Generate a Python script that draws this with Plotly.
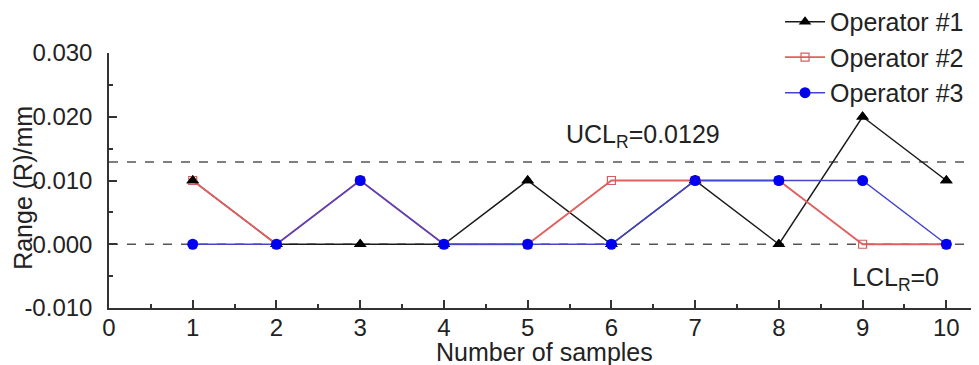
import plotly.graph_objects as go

samples = [1, 2, 3, 4, 5, 6, 7, 8, 9, 10]
op1 = [0.010, 0.000, 0.000, 0.000, 0.010, 0.000, 0.010, 0.000, 0.020, 0.010]
op2 = [0.010, 0.000, 0.010, 0.000, 0.000, 0.010, 0.010, 0.010, 0.000, 0.000]
op3 = [0.000, 0.000, 0.010, 0.000, 0.000, 0.000, 0.010, 0.010, 0.010, 0.000]
ucl = 0.0129
lcl = 0.0
y_ticks = [-0.010, 0.000, 0.010, 0.020, 0.030]
y_ticktext = ["-0.010", "0.000", "0.010", "0.020", "0.030"]
x_ticks = [0, 1, 2, 3, 4, 5, 6, 7, 8, 9, 10]

FONT = "Arial, Liberation Sans, sans-serif"
AX = "#333333"
TXT = "#222222"

fig = go.Figure()
fig.add_trace(go.Scatter(x=samples, y=op1, mode="lines+markers", name="Operator #1",
                         line=dict(color="#1a1a1a", width=1.5),
                         marker=dict(symbol="triangle-up", size=11, color="#000000")))
fig.add_trace(go.Scatter(x=samples, y=op2, mode="lines+markers", name="Operator #2",
                         line=dict(color="#e06060", width=1.8),
                         marker=dict(symbol="square-open", size=8, color="#d06060",
                                     line=dict(width=1.2))))
# Operator #1 markers redrawn above Operator #2 (but below Operator #3), as in the reference
fig.add_trace(go.Scatter(x=samples, y=op1, mode="markers", showlegend=False, hoverinfo="skip",
                         marker=dict(symbol="triangle-up", size=11, color="#000000")))
fig.add_trace(go.Scatter(x=samples, y=op3, mode="lines+markers", name="Operator #3",
                         line=dict(color="#4444cc", width=1.5),
                         marker=dict(symbol="circle", size=11, color="#0000ee")))

for yv in (ucl, lcl):
    fig.add_shape(type="line", xref="paper", x0=0, x1=1, yref="y", y0=yv, y1=yv,
                  line=dict(color="#555555", width=1.5, dash="dash"), layer="below")

fig.add_annotation(x=5.43, y=0.0170, xref="x", yref="y", xanchor="left", yanchor="middle",
                   text="UCL<sub>R</sub>=0.0129", showarrow=False,
                   font=dict(family=FONT, size=25, color=TXT))
fig.add_annotation(x=8.85, y=-0.0055, xref="x", yref="y", xanchor="left", yanchor="middle",
                   text="LCL<sub>R</sub>=0", showarrow=False,
                   font=dict(family=FONT, size=25, color=TXT))
# axis titles
fig.add_annotation(x=0.5, y=-0.1725, xref="paper", yref="paper", xanchor="center", yanchor="middle",
                   text="Number of samples", showarrow=False,
                   font=dict(family=FONT, size=25, color=TXT))
fig.add_annotation(x=-0.099, y=0.4706, xref="paper", yref="paper", xanchor="center", yanchor="middle",
                   text="Range (R)/mm", showarrow=False, textangle=-90,
                   font=dict(family=FONT, size=25, color=TXT))

fig.update_layout(
    width=971, height=357,
    margin=dict(l=101, r=0, t=45, b=57, autoexpand=False),
    paper_bgcolor="white", plot_bgcolor="white",
    font=dict(family=FONT, size=24, color=TXT),
    showlegend=True,
    legend=dict(x=0.7713, y=1.212, xanchor="left", yanchor="top", bgcolor="rgba(0,0,0,0)",
                font=dict(family=FONT, size=25, color=TXT),
                tracegroupgap=0, itemwidth=40),
    xaxis=dict(range=[0, 10.39], tickmode="array", tickvals=x_ticks, automargin=False,
               showline=True, linecolor=AX, linewidth=1.5, showgrid=False, zeroline=False,
               ticks="inside", ticklen=8, tickwidth=1.5, tickcolor=AX,
               ticklabelstandoff=-3,
               minor=dict(dtick=0.5, ticks="inside", ticklen=4, tickwidth=1.5, tickcolor=AX, showgrid=False),
               tickfont=dict(family=FONT, size=24, color=TXT)),
    yaxis=dict(range=[-0.010, 0.030], tickmode="array", tickvals=y_ticks, ticktext=y_ticktext,
               automargin=False,
               showline=True, linecolor=AX, linewidth=1.5, showgrid=False, zeroline=False,
               ticks="inside", ticklen=8, tickwidth=1.5, tickcolor=AX,
               ticklabelstandoff=10,
               minor=dict(dtick=0.005, ticks="inside", ticklen=4, tickwidth=1.5, tickcolor=AX, showgrid=False),
               tickfont=dict(family=FONT, size=24, color=TXT)),
)

fig.write_html("out.html")
